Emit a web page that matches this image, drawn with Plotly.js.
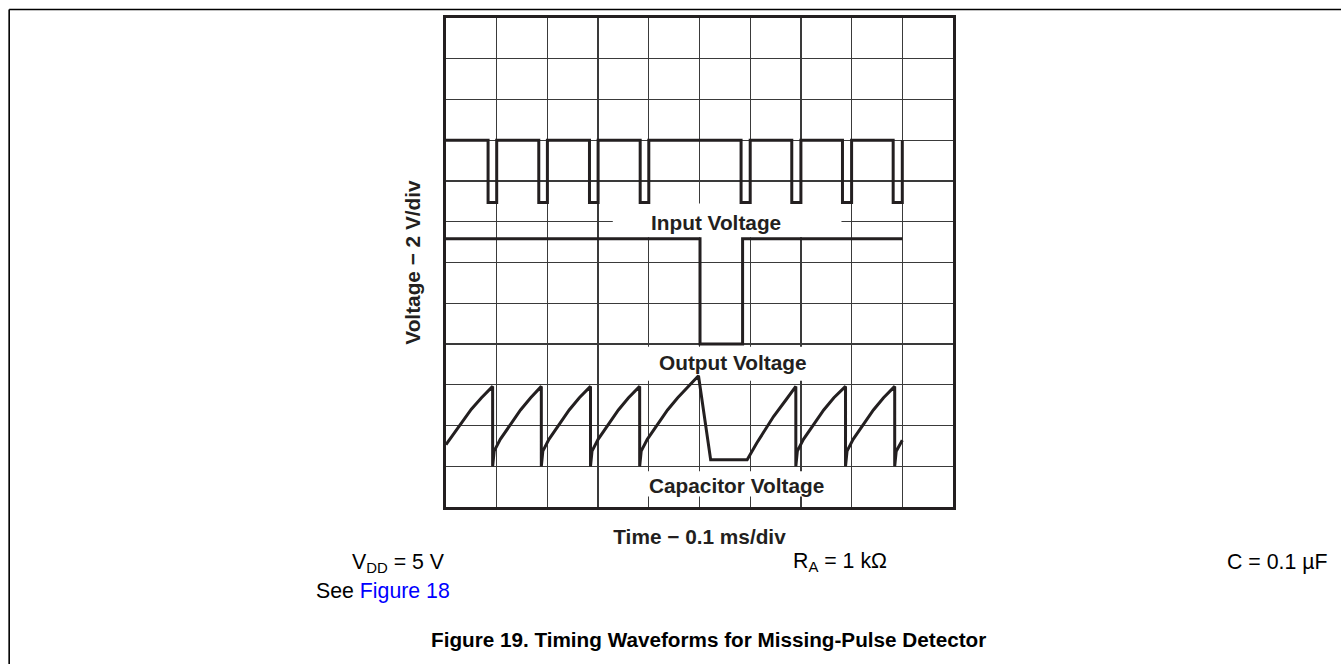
<!DOCTYPE html>
<html>
<head>
<meta charset="utf-8">
<script src="https://cdn.plot.ly/plotly-3.0.1.min.js"></script>
<style>html,body{margin:0;padding:0;background:#fff;}#chart{width:1341px;height:664px;}</style>
</head>
<body>
<div id="chart"></div>
<script>
// Time axis in divisions (0.1 ms/div), voltage in divisions (2 V/div)
const inputX = [0, 0.83, 1.0, 1.83, 2.0, 2.83, 3.0, 3.83, 4.0, 5.82, 6.0, 6.82, 7.0, 7.82, 8.0, 8.82, 9.0];
const inputY = [9, 7.47, 9, 7.47, 9, 7.47, 9, 7.47, 9, 7.47, 9, 7.47, 9, 7.47, 9, 7.47, 9];

const outputX = [0, 5.01, 5.85, 9.0];
const outputY = [6.58, 4.0, 6.58, 6.58];

const capX = [0, 0.15, 0.3, 0.5, 0.7, 0.92,
  0.92, 0.95, 1.07, 1.27, 1.47, 1.67, 1.88,
  1.88, 1.91, 2.03, 2.23, 2.43, 2.63, 2.85,
  2.85, 2.88, 3.0, 3.2, 3.4, 3.6, 3.82,
  3.82, 3.85, 3.97, 4.17, 4.37, 4.57, 4.78, 4.98,
  5.22, 5.94,
  6.13, 6.3, 6.46, 6.7, 6.9,
  6.9, 6.93, 7.05, 7.25, 7.45, 7.65, 7.88,
  7.88, 7.91, 8.03, 8.23, 8.43, 8.63, 8.85,
  8.85, 8.88, 9.0];
const capY = [1.53, 1.8, 2.05, 2.4, 2.68, 2.96,
  1.0, 1.37, 1.66, 2.03, 2.38, 2.68, 2.96,
  1.0, 1.37, 1.66, 2.03, 2.38, 2.68, 2.96,
  1.0, 1.37, 1.66, 2.03, 2.38, 2.68, 2.96,
  1.0, 1.37, 1.66, 2.03, 2.38, 2.68, 2.96, 3.22,
  1.16, 1.16,
  1.57, 1.92, 2.22, 2.62, 2.96,
  1.0, 1.37, 1.66, 2.03, 2.38, 2.68, 2.96,
  1.0, 1.37, 1.66, 2.03, 2.38, 2.68, 2.96,
  1.0, 1.37, 1.64];

const traceLabels = ["Input Voltage", "Output Voltage", "Capacitor Voltage"];
const xTitle = "Time \u2212 0.1 ms/div";
const yTitle = "Voltage \u2212 2 V/div";
const notes = ["V<sub>DD</sub> = 5 V", "See <span style='color:#0000ff'>Figure 18</span>", "R<sub>A</sub> = 1 k\u03A9", "C = 0.1 \u00B5F"];
const caption = "Figure 19. Timing Waveforms for Missing-Pulse Detector";

const ink = '#231f20';
const FONT = '"Liberation Sans", Arial, Helvetica, sans-serif';
const lineStyle = {color: ink, width: 3, shape: 'hv'};

const traces = [
  {x: inputX, y: inputY, mode: 'lines', line: lineStyle, name: traceLabels[0], hoverinfo: 'skip'},
  {x: outputX, y: outputY, mode: 'lines', line: lineStyle, name: traceLabels[1], hoverinfo: 'skip'},
  {x: capX, y: capY, mode: 'lines', line: {color: ink, width: 3, shape: 'linear'}, name: traceLabels[2], hoverinfo: 'skip'}
];

const boldFont = {family: FONT, size: 20.8, color: ink};
const regFont = {family: FONT, size: 21.3, color: '#000'};

const layout = {
  width: 1341, height: 664,
  margin: {l: 445.5, r: 387.7, t: 17.5, b: 156.5, pad: 0},
  paper_bgcolor: '#fff', plot_bgcolor: '#fff',
  showlegend: false,
  font: {family: FONT},
  xaxis: {range: [0, 10], dtick: 1, tick0: 0, showgrid: true, gridcolor: '#3a3a3a', gridwidth: 1.2,
          zeroline: false, showticklabels: false, ticks: '', showline: true, mirror: true,
          linecolor: ink, linewidth: 2.6, fixedrange: true,
          title: {text: '<b>' + xTitle + '</b>', font: boldFont, standoff: 21}},
  yaxis: {range: [0, 12], dtick: 1, tick0: 0, showgrid: true, gridcolor: '#3a3a3a', gridwidth: 1.2,
          zeroline: false, showticklabels: false, ticks: '', showline: true, mirror: true,
          linecolor: ink, linewidth: 2.6, fixedrange: true,
          title: {text: '<b>' + yTitle + '</b>', font: boldFont, standoff: 17}},
  shapes: [
    {type: 'rect', xref: 'x', yref: 'y', x0: 3.29, x1: 7.80, y0: 6.62, y1: 7.45, fillcolor: '#fff', line: {width: 0}, layer: 'between'},
    {type: 'rect', xref: 'x', yref: 'y', x0: 3.63, x1: 7.47, y0: 3.1, y1: 3.93, fillcolor: '#fff', line: {width: 0}, layer: 'between'},
    {type: 'rect', xref: 'x', yref: 'y', x0: 3.83, x1: 7.67, y0: 0.26, y1: 0.88, fillcolor: '#fff', line: {width: 0}, layer: 'between'},
    {type: 'line', xref: 'paper', yref: 'paper', x0: -0.8616, x1: 1.9, y0: 1.0173, y1: 1.0173, line: {color: '#000', width: 1.6}, layer: 'above'},
    {type: 'line', xref: 'paper', yref: 'paper', x0: -0.8616, x1: -0.8616, y0: 1.0173, y1: -0.5, line: {color: '#000', width: 1.6}, layer: 'above'}
  ],
  annotations: [
    {text: '<b>' + traceLabels[0] + '</b>', xref: 'x', yref: 'y', x: 5.33, y: 6.98, showarrow: false, font: boldFont, xanchor: 'center', yanchor: 'middle'},
    {text: '<b>' + traceLabels[1] + '</b>', xref: 'x', yref: 'y', x: 5.66, y: 3.55, showarrow: false, font: boldFont, xanchor: 'center', yanchor: 'middle'},
    {text: '<b>' + traceLabels[2] + '</b>', xref: 'x', yref: 'y', x: 5.72, y: 0.54, showarrow: false, font: boldFont, xanchor: 'center', yanchor: 'middle'},
    {text: notes[0], xref: 'paper', yref: 'paper', x: -0.190, y: -0.115, showarrow: false, font: regFont, xanchor: 'left', yanchor: 'middle'},
    {text: notes[1], xref: 'paper', yref: 'paper', x: -0.261, y: -0.172, showarrow: false, font: regFont, xanchor: 'left', yanchor: 'middle'},
    {text: notes[2], xref: 'paper', yref: 'paper', x: 0.681, y: -0.112, showarrow: false, font: regFont, xanchor: 'left', yanchor: 'middle'},
    {text: notes[3], xref: 'paper', yref: 'paper', x: 1.537, y: -0.112, showarrow: false, font: regFont, xanchor: 'left', yanchor: 'middle'},
    {text: '<b>' + caption + '</b>', xref: 'paper', yref: 'paper', x: -0.0335, y: -0.270, showarrow: false, font: {family: FONT, size: 20.7, color: '#000'}, xanchor: 'left', yanchor: 'middle'}
  ]
};

Plotly.newPlot('chart', traces, layout, {displayModeBar: false, staticPlot: true});
</script>
</body>
</html>
